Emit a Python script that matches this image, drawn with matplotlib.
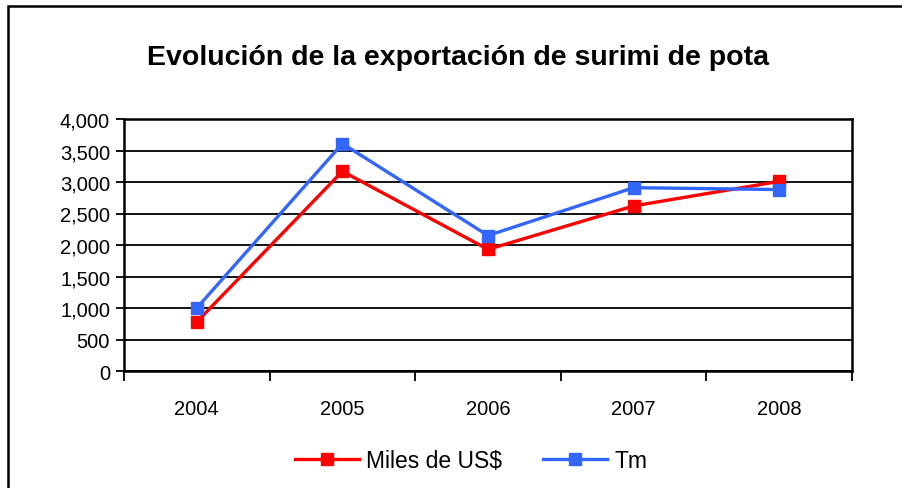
import numpy as np
import matplotlib.pyplot as plt
from matplotlib.patches import Rectangle
from matplotlib.ticker import FuncFormatter, FixedLocator

years = ['2004', '2005', '2006', '2007', '2008']
miles_usd = [780, 3170, 1930, 2620, 3010]
tm = [1000, 3610, 2150, 2910, 2880]

plt.rcParams['font.family'] = ['Liberation Sans', 'DejaVu Sans']

fig = plt.figure(figsize=(9.03, 4.89), dpi=100)
ax = fig.add_axes([124 / 903, 1 - 372 / 489, (852 - 124) / 903, (372 - 120) / 489])

# outer chart frame (cropped on the right and bottom)
fig.patches.append(Rectangle((8 / 903, -0.1), 1.2, 1 - 7 / 489 + 0.1,
                             transform=fig.transFigure, fill=False,
                             edgecolor='black', linewidth=1.8))

x = np.arange(len(years))
ax.plot(x, miles_usd, '-s', color='#FF0000', lw=2.4, ms=9, label='Miles de US$')
ax.plot(x, tm, '-s', color='#3366FF', lw=2.4, ms=9, label='Tm')

ax.set_xlim(-0.5, len(years) - 0.5)
ax.set_ylim(0, 4000)
ax.set_yticks(np.arange(0, 4001, 500))
ax.yaxis.set_major_formatter(FuncFormatter(lambda v, p: f'{int(v):,}'))
ax.set_xticks(x)
ax.set_xticklabels(years)
ax.xaxis.set_minor_locator(FixedLocator(np.arange(-0.5, len(years), 1.0)))
ax.tick_params(axis='x', which='major', length=0, pad=20, labelsize=14.5)
ax.tick_params(axis='x', which='minor', length=7, width=1.3, direction='out')
ax.tick_params(axis='y', length=6, width=1.3, direction='out', labelsize=14.5, pad=4)

ax.grid(axis='y', color='black', linewidth=1.3)
ax.set_axisbelow(True)
for s in ax.spines.values():
    s.set_linewidth(1.8)

fig.text(458 / 903, 1 - 58 / 489, 'Evolución de la exportación de surimi de pota',
         ha='center', va='center', fontsize=20.5, fontweight='bold')

fig.legend(loc='center', bbox_to_anchor=(471 / 903, 1 - 462 / 489), ncol=2, frameon=False,
           fontsize=16.5, handlelength=2.8, handletextpad=0.3, columnspacing=1.8)

plt.savefig('out.png', dpi=100)
